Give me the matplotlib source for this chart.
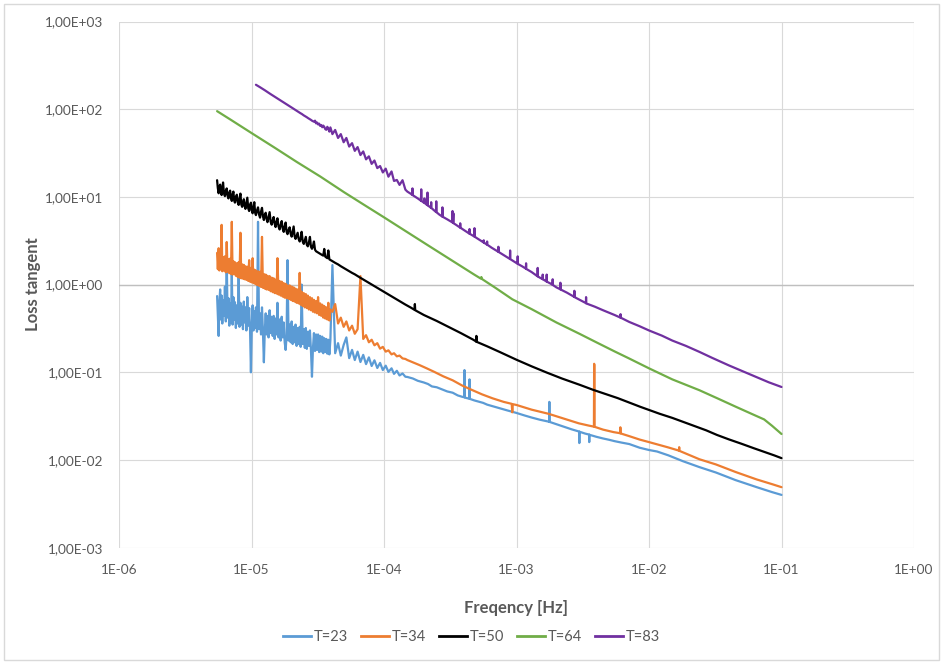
import math
import matplotlib
matplotlib.use("Agg")
import matplotlib.pyplot as plt
from matplotlib.patches import Rectangle
from matplotlib.lines import Line2D
from matplotlib.ticker import FixedLocator, FuncFormatter, NullLocator

plt.rcParams['font.family'] = ['Lato', 'DejaVu Sans']

UHZ = 1e-6  # frequencies below are listed in microhertz

# ---- shared low-frequency grid (µHz) for the noisy start of the sweeps ----
freq_low_uhz = [5.5, 5.57, 5.65, 5.72, 5.8, 5.87, 5.95, 6.02, 6.1, 6.2,
                6.3, 6.4, 6.5, 6.6, 6.7, 6.8, 6.9, 7.0, 7.1, 7.2,
                7.3, 7.4, 7.5, 7.62, 7.75, 7.87, 8.0, 8.12, 8.25, 8.37,
                8.5, 8.62, 8.75, 8.87, 9.0, 9.15, 9.3, 9.45, 9.6, 9.75,
                9.9, 10.05, 10.2, 10.35, 10.5, 10.65, 10.8, 11.0, 11.2, 11.4,
                11.6, 11.8, 12.0, 12.2, 12.4, 12.6, 12.8, 13.0, 13.2, 13.45,
                13.7, 13.95, 14.2, 14.45, 14.7, 14.95, 15.2, 15.45, 15.7, 16.0,
                16.3, 16.6, 16.9, 17.2, 17.5, 17.8, 18.1, 18.4, 18.7, 19.05,
                19.4, 19.75, 20.1, 20.45, 20.8, 21.15, 21.5, 21.9, 22.3, 22.7,
                23.1, 23.5, 23.9, 24.35, 24.8, 25.25, 25.7, 26.15, 26.6, 27.1,
                27.6, 28.1, 28.6, 29.1, 29.6, 30.15, 30.7, 31.25, 31.8, 32.4,
                33.0, 33.6, 34.2, 34.8, 35.4, 36.05, 36.7, 37.35, 38.0, 38.7,
                39.4, 40.8, 42.8, 45.0, 47.2, 49.6, 52.0, 54.6, 57.4, 60.2,
                63.2, 66.4, 69.7, 73.2, 76.9, 80.7, 84.7, 89.0, 93.4, 98.0,
                103, 108, 114, 119, 125, 131, 138, 145]
T83_START = 46  # the T=83 sweep begins later on the same grid

# ---- T=23 ----
loss_T23_low = [0.74, 0.45, 0.26, 0.62, 0.88, 0.40, 0.75, 0.36, 0.66, 0.44,
                0.95, 0.38, 2.05, 0.42, 0.70, 0.34, 0.61, 0.37, 1.36, 0.35,
                0.72, 0.40, 0.63, 0.32, 0.58, 0.36, 1.23, 0.33, 0.62, 0.35,
                0.56, 0.31, 0.64, 0.37, 0.55, 0.30, 0.72, 0.34, 0.54, 0.31,
                0.10, 0.33, 0.58, 0.30, 0.50, 0.32, 0.55, 0.29, 5.2, 0.31,
                0.47, 0.27, 0.55, 0.29, 0.13, 0.30, 0.47, 0.27, 0.44, 0.25,
                0.51, 0.28, 0.43, 0.26, 0.44, 0.24, 0.41, 0.27, 0.62, 0.25,
                0.40, 0.23, 0.43, 0.25, 0.37, 0.22, 0.18, 0.26, 1.9, 0.23,
                0.35, 0.22, 0.38, 0.21, 0.33, 0.22, 0.35, 0.20, 0.32, 0.21,
                0.33, 0.195, 1.0, 0.21, 0.31, 0.19, 0.32, 0.185, 0.29, 0.20,
                0.30, 0.18, 0.089, 0.19, 0.28, 0.175, 0.27, 0.18, 0.27, 0.17,
                0.26, 0.172, 0.255, 0.165, 0.245, 0.17, 0.24, 0.163, 0.235, 0.16,
                0.235, 1.67, 0.165, 0.215, 0.155, 0.205, 0.25, 0.145, 0.18, 0.138,
                0.172, 0.131, 0.158, 0.124, 0.148, 0.118, 0.137, 0.112, 0.128, 0.106,
                0.119, 0.101, 0.111, 0.096, 0.104, 0.092, 0.097, 0.089]
freq_T23_high_uhz = [150, 165, 180, 200, 215, 230, 250, 270, 300, 330, 360, 390,
                     403, 405, 407, 440, 442, 444, 480, 520, 560, 600, 680, 760, 850,
                     1000, 1150, 1300, 1500, 1765, 1770, 1775, 2000, 2300, 2600,
                     2970, 2980, 2990, 3300, 3530, 3540, 3550, 4000, 4500, 5000,
                     5500, 6200, 7100, 8500, 1.0e4, 1.15e4, 1.4e4, 1.8e4, 2.4e4,
                     3.2e4, 4.5e4, 6.5e4, 8.5e4, 1.0e5]
loss_T23_high = [0.0885, 0.085, 0.080, 0.0765, 0.0735, 0.069, 0.0675, 0.0645, 0.0605, 0.0585, 0.0545, 0.0525,
                 0.052, 0.106, 0.0515, 0.0500, 0.083, 0.0498, 0.0478, 0.0462, 0.0448, 0.0428, 0.0405, 0.0386, 0.0368,
                 0.0344, 0.0322, 0.0305, 0.0288, 0.0273, 0.046, 0.0272, 0.0256, 0.0238, 0.0224,
                 0.0211, 0.0156, 0.0210, 0.0200, 0.0195, 0.0160, 0.0194, 0.0184, 0.0176, 0.0170,
                 0.0164, 0.0158, 0.0152, 0.0138, 0.0130, 0.0125, 0.0113, 0.0097, 0.0083,
                 0.0072, 0.0059, 0.0049, 0.0043, 0.0040]

# ---- T=34 ----
loss_T34_low = [2.3, 1.5, 2.6, 1.45, 2.1, 1.5, 4.8, 1.42, 2.05, 1.45,
                2.1, 1.38, 3.06, 1.40, 1.95, 1.35, 1.98, 1.32, 5.2, 1.30,
                1.85, 1.32, 1.80, 1.26, 1.75, 1.22, 1.80, 1.20, 3.9, 1.18,
                1.70, 1.17, 1.68, 1.15, 1.62, 1.13, 1.60, 1.10, 1.9, 1.08,
                1.55, 1.06, 2.0, 1.04, 1.48, 1.02, 1.45, 0.99, 1.42, 0.97,
                1.40, 0.94, 3.5, 0.92, 1.32, 0.90, 1.30, 0.88, 1.26, 0.87,
                1.25, 0.84, 1.20, 0.82, 1.18, 0.80, 1.14, 0.79, 2.0, 0.77,
                1.10, 0.75, 1.08, 0.73, 1.04, 0.71, 1.02, 0.70, 0.98, 0.69,
                0.98, 0.67, 0.95, 0.65, 0.93, 0.64, 0.90, 0.62, 0.88, 0.61,
                1.36, 0.59, 0.83, 0.57, 0.80, 0.55, 0.78, 0.54, 0.75, 0.52,
                0.72, 0.51, 0.70, 0.49, 0.67, 0.48, 0.65, 0.47, 0.72, 0.45,
                0.61, 0.44, 0.59, 0.42, 0.57, 0.41, 0.55, 0.40, 0.62, 0.39,
                0.52, 0.49, 0.60, 0.36, 0.42, 0.33, 0.38, 0.30, 0.34, 0.275,
                0.31, 1.25, 0.24, 0.265, 0.22, 0.235, 0.203, 0.215, 0.186, 0.195,
                0.172, 0.178, 0.160, 0.165, 0.152, 0.155, 0.144, 0.142]
freq_T34_high_uhz = [150, 165, 185, 210, 240, 280, 330, 390, 460, 550, 660, 800,
                     920, 929, 938, 1000, 1300, 1750, 2200, 2950, 3500,
                     3840, 3855, 3870, 3885, 4500, 5400, 6060, 6080, 6100,
                     7100, 8500, 1.0e4, 1.4e4, 1.68e4, 1.69e4, 1.70e4, 2.4e4,
                     3.2e4, 4.5e4, 6.5e4, 8.5e4, 1.0e5]
loss_T34_high = [0.138, 0.130, 0.121, 0.111, 0.101, 0.090, 0.081, 0.0705, 0.063, 0.056, 0.0505, 0.0460,
                 0.0437, 0.035, 0.0433, 0.0424, 0.0375, 0.0336, 0.0301, 0.0262, 0.0247,
                 0.0240, 0.125, 0.121, 0.0239, 0.0222, 0.0208, 0.0202, 0.0236, 0.0201,
                 0.0187, 0.0171, 0.0160, 0.0139, 0.0128, 0.0140, 0.0127, 0.0102,
                 0.0089, 0.0073, 0.0060, 0.0053, 0.0049]

# ---- T=50 ----
loss_T50_low = [15.5, 12.6, 11.0, 12.9, 13.8, 11.5, 10.5, 12.4, 14.6, 10.9,
                10.2, 11.7, 12.5, 10.3, 9.6, 11.2, 11.8, 9.7, 9.0, 10.6,
                11.5, 9.1, 8.6, 9.9, 10.6, 8.7, 8.1, 9.5, 10.9, 8.2,
                7.7, 8.6, 9.4, 7.9, 7.3, 8.4, 9.8, 7.4, 6.9, 8.1,
                8.6, 7.0, 6.5, 7.7, 8.7, 6.6, 6.2, 7.0, 7.6, 6.3,
                5.8, 6.8, 7.5, 6.0, 5.45, 6.2, 6.6, 5.6, 5.15, 5.9,
                6.7, 5.2, 4.82, 5.4, 5.9, 4.95, 4.53, 5.2, 5.7, 4.6,
                4.25, 4.8, 5.3, 4.35, 3.99, 4.6, 5.1, 4.0, 3.76, 4.2,
                4.5, 3.8, 3.52, 4.0, 4.6, 3.55, 3.32, 3.6, 3.9, 3.3,
                3.10, 3.35, 4.0, 3.1, 2.91, 3.2, 3.5, 2.85, 2.73, 3.0,
                3.5, 2.7, 2.56, 2.75, 3.1, 2.5, 2.40, 2.36, 2.32, 2.28,
                2.24, 2.2, 2.17, 2.14, 2.55, 2.08, 2.04, 2.0, 2.45, 1.94,
                1.91, 1.85, 1.77, 1.70, 1.62, 1.55, 1.49, 1.42, 1.36, 1.31,
                1.25, 1.195, 1.144, 1.095, 1.047, 1.003, 0.960, 0.918, 0.879, 0.842,
                0.805, 0.772, 0.735, 0.707, 0.676, 0.648, 0.619, 0.592]
freq_T50_high_uhz = [160, 170, 171, 172, 200, 250, 300, 380, 470, 497, 498, 499,
                     600, 750, 1000, 1300, 1700, 2200, 3000, 3800, 4700, 5800,
                     7200, 8600, 1.0e4, 1.2e4, 1.5e4, 1.8e4, 2.2e4, 2.7e4,
                     3.26e4, 4.0e4, 5.0e4, 6.2e4, 7.5e4, 8.8e4, 1.0e5]
loss_T50_high = [0.545, 0.515, 0.60, 0.51, 0.45, 0.385, 0.335, 0.28, 0.236, 0.224, 0.26, 0.223,
                 0.198, 0.170, 0.139, 0.117, 0.099, 0.085, 0.072, 0.063, 0.0565, 0.0508,
                 0.0448, 0.0404, 0.0372, 0.0337, 0.0302, 0.0273, 0.0245, 0.0218,
                 0.0193, 0.0172, 0.0153, 0.0136, 0.0123, 0.0113, 0.0105]

# ---- T=64 ----
freq_T64_uhz = [5.5, 7, 10, 15, 22, 33, 50, 70, 100, 150, 220, 330, 480,
                538, 543, 548, 700, 930, 1300, 2000, 3000, 4000, 5500, 7000,
                1.0e4, 1.5e4, 2.4e4, 3.3e4, 4.5e4, 6.0e4, 7.4e4, 8.5e4, 1.0e5]
loss_T64 = [95, 75.5, 53.5, 36.3, 25.0, 17.1, 11.3, 8.2, 5.85, 3.96, 2.74, 1.86, 1.30,
            1.17, 1.22, 1.16, 0.91, 0.68, 0.525, 0.37, 0.274, 0.220, 0.173, 0.145,
            0.111, 0.083, 0.0625, 0.0503, 0.0406, 0.0334, 0.0290, 0.0245, 0.0198]

# ---- T=83 ----
loss_T83_low = [190, 187, 184, 181, 178, 175, 172, 169.5, 167, 164.5,
                162, 159.5, 157, 154, 151, 148.5, 146, 143.5, 141, 139,
                137, 135, 133, 130.5, 128, 125.7, 123.5, 121.5, 119.5, 117.5,
                115.5, 113.7, 112, 110, 108, 106.2, 104.5, 102.7, 101, 99.5,
                98, 96.2, 94.5, 92.7, 91, 89.7, 88.5, 86.7, 85, 83.7,
                82.5, 81, 79.5, 78.2, 77, 75.5, 74, 73, 72, 74,
                69, 70.5, 67, 68.5, 64.5, 66, 62.3, 65, 63, 59.2,
                58.2, 63, 60, 55.5, 62,
                52, 58, 47, 52, 42, 47, 37.5, 41, 33.5, 37,
                30, 33, 26.8, 29, 23.8, 26, 21.3, 22.5, 19.0, 21,
                17.0, 19.5, 15.2, 15.6, 13.7, 15.5, 12.1]
freq_T83_high_uhz = [150, 160, 163, 164, 165, 180, 190, 191, 192, 201, 202, 203,
                     212, 213, 214, 226, 227, 228, 247, 248, 249, 261, 275, 276, 277,
                     300, 328, 329, 331, 334, 335.5, 350, 375, 376, 377.5, 410,
                     441, 442, 443.5, 481, 482, 483.5, 500, 565, 566, 568,
                     598, 600, 602, 650, 728, 730, 732, 800, 892, 895, 898,
                     1000, 1018, 1021, 1024, 1100, 1177, 1181, 1185, 1300,
                     1440, 1445, 1450, 1500, 1572, 1577, 1582, 1684, 1690, 1696,
                     1800, 1869, 1875, 1881, 2000, 2137, 2144, 2151, 2400,
                     2725, 2734, 2743, 3000, 3340, 3350, 3360, 3900, 4500, 5500,
                     6090, 6100, 6110, 7100, 8500, 1.0e4, 1.25e4, 1.5e4, 1.9e4,
                     2.4e4, 3.0e4, 4.0e4, 5.0e4, 6.5e4, 8.0e4, 1.0e5]
loss_T83_high = [11.5, 10.8, 10.55, 12.5, 10.45, 9.6, 9.05, 12.2, 8.98, 8.55, 9.6, 8.5,
                 8.05, 11.2, 8.0, 7.52, 8.7, 7.47, 6.72, 8.9, 6.69, 6.3, 5.97, 7.6, 5.94,
                 5.55, 5.12, 6.9, 5.08, 6.5, 5.0, 4.8, 4.47, 5.0, 4.45, 4.1,
                 3.81, 4.3, 3.8, 3.53, 4.4, 3.52, 3.4, 3.02, 3.2, 3.01,
                 2.86, 3.1, 2.85, 2.63, 2.37, 2.7, 2.36, 2.17, 1.96, 2.45, 1.95,
                 1.76, 1.73, 2.1, 1.72, 1.62, 1.52, 1.75, 1.51, 1.39,
                 1.245, 1.55, 1.24, 1.2, 1.155, 1.3, 1.15, 1.085, 1.3, 1.08,
                 1.03, 0.995, 1.15, 0.99, 0.93, 0.885, 1.05, 0.88, 0.81,
                 0.725, 0.85, 0.72, 0.67, 0.615, 0.72, 0.61, 0.56, 0.51, 0.45,
                 0.42, 0.46, 0.42, 0.375, 0.335, 0.30, 0.262, 0.23, 0.20,
                 0.171, 0.146, 0.12, 0.104, 0.088, 0.077, 0.068]

series_labels = ['T=23', 'T=34', 'T=50', 'T=64', 'T=83']
series_colors = ['#5B9BD5', '#ED7D31', '#000000', '#70AD47', '#7030A0']

x_decades = [-6, -5, -4, -3, -2, -1, 0]
y_decades = [-3, -2, -1, 0, 1, 2, 3]


def hz(values_uhz):
    return [v * UHZ for v in values_uhz]


series = [
    (hz(freq_low_uhz) + hz(freq_T23_high_uhz), loss_T23_low + loss_T23_high),
    (hz(freq_low_uhz) + hz(freq_T34_high_uhz), loss_T34_low + loss_T34_high),
    (hz(freq_low_uhz) + hz(freq_T50_high_uhz), loss_T50_low + loss_T50_high),
    (hz(freq_T64_uhz), loss_T64),
    (hz(freq_low_uhz[T83_START:]) + hz(freq_T83_high_uhz), loss_T83_low + loss_T83_high),
]

W, H = 943, 663
fig = plt.figure(figsize=(W / 100, H / 100), dpi=100)
fig.patch.set_facecolor('white')

# chart-area frame
fig.add_artist(Rectangle((4 / W, 3 / H), (W - 8) / W, (H - 7) / H,
                         transform=fig.transFigure, fill=False,
                         edgecolor='#d9d9d9', linewidth=1.0))

left, right, top, bottom = 119, 914, 21.5, 547.7
ax = fig.add_axes([left / W, 1 - bottom / H, (right - left) / W, (bottom - top) / H])
ax.set_xscale('log')
ax.set_yscale('log')
ax.set_xlim(1e-6, 1e0)
ax.set_ylim(1e-3, 1e3)

for s in ax.spines.values():
    s.set_visible(False)

ax.xaxis.set_major_locator(FixedLocator([10.0 ** k for k in x_decades]))
ax.yaxis.set_major_locator(FixedLocator([10.0 ** k for k in y_decades]))
ax.xaxis.set_minor_locator(NullLocator())
ax.yaxis.set_minor_locator(NullLocator())
ax.xaxis.set_major_formatter(FuncFormatter(lambda v, p: '1E%+03d' % round(math.log10(v))))
ax.yaxis.set_major_formatter(FuncFormatter(lambda v, p: '1,00E%+03d' % round(math.log10(v))))
ax.tick_params(axis='both', length=0, labelsize=9.8, labelcolor='#595959')
ax.tick_params(axis='x', pad=11.5)
ax.tick_params(axis='y', pad=11.5)

ax.set_axisbelow(True)
ax.grid(True, which='major', color='#d9d9d9', linewidth=0.8)
ax.axhline(1.0, color='#bfbfbf', linewidth=1.0, zorder=1.5)

handles = []
for (f, v), lab, col in zip(series, series_labels, series_colors):
    ax.plot(f, v, color=col, linewidth=1.6, solid_joinstyle='round',
            solid_capstyle='round', label=lab, zorder=3)
    handles.append(Line2D([], [], color=col, linewidth=2.0))

ax.set_xlabel('Freqency [Hz]', fontsize=12, fontweight='bold', color='#595959')
ax.xaxis.set_label_coords(0.5, (bottom - 608) / (bottom - top))
ax.xaxis.label.set_verticalalignment('center')
ax.set_ylabel('Loss tangent', fontsize=12, fontweight='bold', color='#595959')
ax.yaxis.set_label_coords((33 - left) / (right - left), 0.5)
ax.yaxis.label.set_verticalalignment('center')

fig.legend(handles, series_labels, loc='center', bbox_to_anchor=(0.5, 1 - 637 / H),
           ncol=5, frameon=False, fontsize=10.5, handlelength=1.9, handletextpad=0.2,
           columnspacing=0.9, labelcolor='#595959')

fig.savefig('out.png', dpi=100, facecolor='white')
